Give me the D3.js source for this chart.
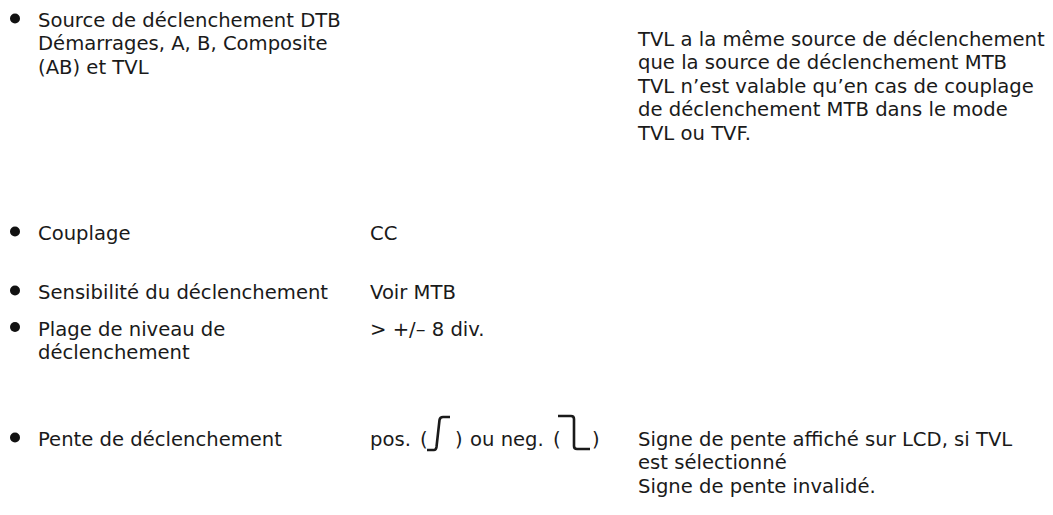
<!DOCTYPE html>
<html><head><meta charset="utf-8">
<script src="https://cdn.jsdelivr.net/npm/d3@7/dist/d3.min.js"></script>
<style>
html,body{margin:0;padding:0;background:#fff;}
svg{display:block;}
text{font-family:"DejaVu Sans","Open Sans",sans-serif;fill:#1a1a1a;}
</style></head>
<body>
<svg id="c" width="1053" height="515"></svg>
<script>
// ---- content ----
const items = ["r1","r2","r3","r4","r5"];
const labels = [
  ["Source de déclenchement DTB","Démarrages, A, B, Composite","(AB) et TVL"],
  ["Couplage"],
  ["Sensibilité du déclenchement"],
  ["Plage de niveau de","déclenchement"],
  ["Pente de déclenchement"]
];
const values = ["", "CC", "Voir MTB", "> +/– 8 div.", ""];
const slopeParts = ["pos.", "(", ")", "ou neg.", "(", ")"];
const notes = [
  ["TVL a la même source de déclenchement","que la source de déclenchement MTB","TVL n’est valable qu’en cas de couplage","de déclenchement MTB dans le mode","TVL ou TVF."],
  [],[],[],
  ["Signe de pente affiché sur LCD, si TVL","est sélectionné","Signe de pente invalidé."]
];

// ---- layout ----
const svg = d3.select("#c");
const fs = 19.6;
const lh = 23.4;
const rowBase = d3.scaleOrdinal().domain(items).range([27, 240, 299, 335.5, 446]);
const noteBase = d3.scaleOrdinal().domain(items).range([46, 0, 0, 0, 446]);
const col = {bullet:15, label:38, value:370, note:638};

const g = svg.append("g");
items.forEach((id,i)=>{
  const y0 = rowBase(id);
  g.append("circle").attr("cx",col.bullet).attr("cy",y0-8.5).attr("r",5).attr("fill","#111");
  g.selectAll(null).data(labels[i]).enter().append("text")
    .attr("x",col.label).attr("y",(d,j)=>y0+j*lh).attr("font-size",fs).text(d=>d);
  if (values[i]) g.append("text").attr("x",col.value).attr("y",y0).attr("font-size",fs).text(values[i]);
  const ny = noteBase(id);
  g.selectAll(null).data(notes[i]).enter().append("text")
    .attr("x",col.note).attr("y",(d,j)=>ny+j*lh).attr("font-size",fs).text(d=>d);
});

// slope row
const sy = rowBase("r5");
const v = col.value;
const offs = [0, 50, 85, 100, 183, 222];
slopeParts.forEach((s,k)=>{
  g.append("text").attr("x",v+offs[k]).attr("y",sy).attr("font-size",fs).text(s);
});
const px = v + 57;
g.append("path").attr("d",`M${px},${sy+4} H${px+7} Q${px+9},${sy+4} ${px+9.5},${sy+1} L${px+12.5},${sy-26} Q${px+13},${sy-29} ${px+16},${sy-29} H${px+23}`)
  .attr("fill","none").attr("stroke","#1a1a1a").attr("stroke-width",2.6);
const nx = v + 188;
g.append("path").attr("d",`M${nx},${sy-30} H${nx+13} Q${nx+16},${sy-30} ${nx+16},${sy-27} V${sy} Q${nx+16},${sy+3} ${nx+19},${sy+3} H${nx+32}`)
  .attr("fill","none").attr("stroke","#1a1a1a").attr("stroke-width",2.6);
</script>
</body></html>
